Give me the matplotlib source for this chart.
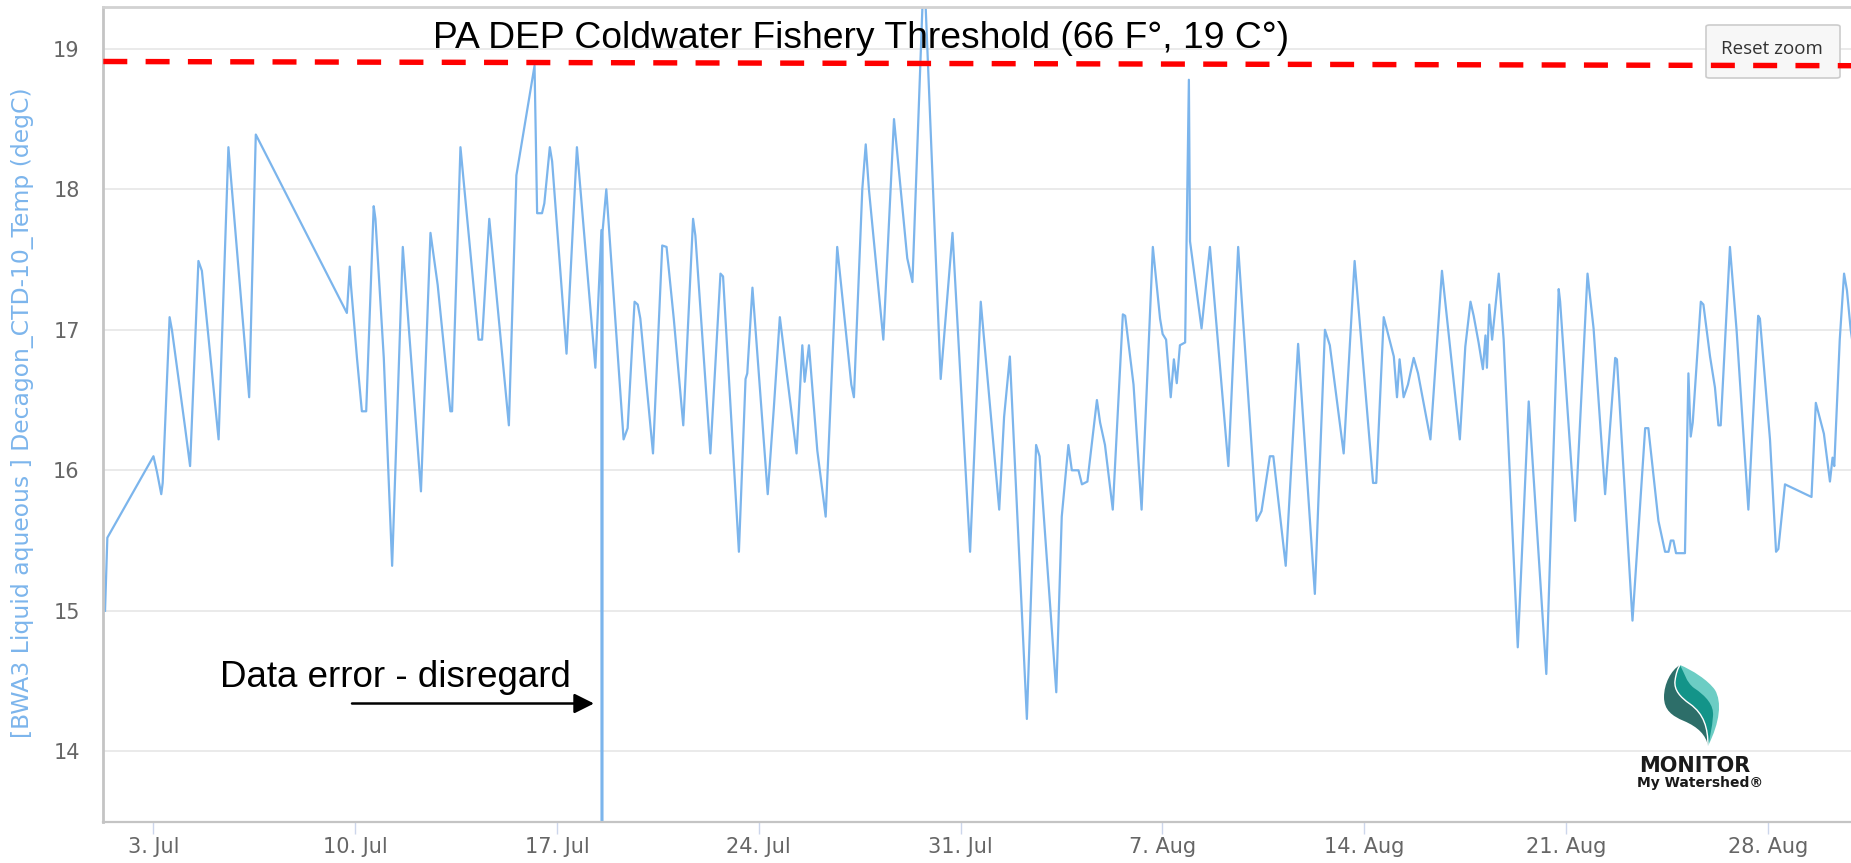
import numpy as np
import matplotlib
matplotlib.use('Agg')
import matplotlib.pyplot as plt
import matplotlib.dates as mdates
from matplotlib.patches import FancyBboxPatch, PathPatch
from matplotlib.path import Path

# readings: days since 1 Jul 2017 00:00 and water temperature (degC)
days_since_jul1 = [
    0.32, 0.40, 2.00, 2.12, 2.27, 2.32, 2.56, 2.64, 3.10, 3.27, 3.56, 3.68,
    4.26, 4.60, 5.32, 5.55, 8.71, 8.81, 8.85, 9.06, 9.23, 9.38, 9.64, 9.70,
    9.99, 10.28, 10.65, 11.28, 11.61, 11.86, 12.30, 12.36, 12.65, 13.28, 13.40, 13.65,
    14.33, 14.59, 15.22, 15.31, 15.48, 15.56, 15.75, 15.83, 16.33, 16.69, 17.33, 17.54,
    17.56, 17.58, 17.71, 18.31, 18.45, 18.69, 18.80, 18.89, 19.33, 19.65, 19.80, 20.05,
    20.38, 20.72, 20.80, 21.32, 21.67, 21.76, 22.31, 22.54, 22.60, 22.78, 23.31, 23.52,
    23.73, 24.31, 24.51, 24.59, 24.74, 25.03, 25.32, 25.72, 26.21, 26.30, 26.59, 26.71,
    26.82, 27.32, 27.69, 28.15, 28.33, 28.73, 29.31, 29.72, 30.33, 30.70, 31.34, 31.51,
    31.71, 32.30, 32.62, 32.74, 33.32, 33.51, 33.74, 33.86, 34.09, 34.21, 34.40, 34.73,
    34.84, 35.01, 35.28, 35.63, 35.71, 36.00, 36.28, 36.67, 36.92, 37.01, 37.13, 37.29,
    37.40, 37.50, 37.61, 37.79, 37.92, 37.96, 38.36, 38.65, 39.29, 39.63, 40.27, 40.44,
    40.73, 40.85, 41.28, 41.71, 42.29, 42.64, 42.81, 43.29, 43.67, 44.31, 44.42, 44.68,
    45.03, 45.14, 45.23, 45.37, 45.52, 45.72, 45.87, 46.30, 46.70, 47.32, 47.51, 47.69,
    47.80, 47.97, 48.12, 48.21, 48.26, 48.34, 48.44, 48.67, 48.84, 49.33, 49.71, 50.32,
    50.75, 50.80, 51.32, 51.75, 51.96, 52.36, 52.71, 52.77, 53.31, 53.75, 53.86, 54.21,
    54.44, 54.56, 54.64, 54.73, 54.82, 55.13, 55.25, 55.33, 55.40, 55.68, 55.77, 56.00,
    56.17, 56.29, 56.37, 56.69, 56.92, 57.33, 57.67, 57.73, 58.08, 58.29, 58.37, 58.60,
    59.52, 59.67, 59.95, 60.16, 60.25, 60.31, 60.50, 60.65, 60.75, 60.88, 60.95,
]
temp_c = [
    15.00, 15.52, 16.10, 15.99, 15.83, 15.91, 17.09, 17.00, 16.30, 16.03, 17.49, 17.42,
    16.22, 18.30, 16.52, 18.39, 17.12, 17.45, 17.32, 16.80, 16.42, 16.42, 17.88, 17.79,
    16.80, 15.32, 17.59, 15.85, 17.69, 17.32, 16.42, 16.42, 18.30, 16.93, 16.93, 17.79,
    16.32, 18.10, 18.88, 17.83, 17.83, 17.90, 18.30, 18.20, 16.83, 18.30, 16.73, 17.71,
    0.00, 17.70, 18.00, 16.22, 16.30, 17.20, 17.18, 17.08, 16.12, 17.60, 17.59, 17.08,
    16.32, 17.79, 17.67, 16.12, 17.40, 17.38, 15.42, 16.65, 16.69, 17.30, 15.83, 16.44,
    17.09, 16.12, 16.89, 16.63, 16.89, 16.14, 15.67, 17.59, 16.61, 16.52, 18.00, 18.32,
    18.00, 16.93, 18.50, 17.51, 17.34, 19.60, 16.65, 17.69, 15.42, 17.20, 15.72, 16.38,
    16.81, 14.23, 16.18, 16.10, 14.42, 15.67, 16.18, 16.00, 16.00, 15.90, 15.92, 16.50,
    16.34, 16.18, 15.72, 17.11, 17.10, 16.61, 15.72, 17.59, 17.08, 16.97, 16.93, 16.52,
    16.79, 16.62, 16.89, 16.91, 18.78, 17.63, 17.01, 17.59, 16.03, 17.59, 15.64, 15.71,
    16.10, 16.10, 15.32, 16.90, 15.12, 17.00, 16.89, 16.12, 17.49, 15.91, 15.91, 17.09,
    16.81, 16.52, 16.79, 16.52, 16.61, 16.80, 16.69, 16.22, 17.42, 16.22, 16.88, 17.20,
    17.10, 16.91, 16.72, 16.96, 16.73, 17.18, 16.93, 17.40, 16.93, 14.74, 16.49, 14.55,
    17.29, 17.20, 15.64, 17.40, 17.01, 15.83, 16.80, 16.79, 14.93, 16.30, 16.30, 15.64,
    15.42, 15.42, 15.50, 15.50, 15.41, 15.41, 16.69, 16.24, 16.34, 17.20, 17.18, 16.81,
    16.59, 16.32, 16.32, 17.59, 17.00, 15.72, 17.10, 17.08, 16.22, 15.42, 15.44, 15.90,
    15.81, 16.48, 16.26, 15.92, 16.09, 16.03, 16.93, 17.40, 17.28, 17.00, 16.90,
]
view_days = [0.26, 60.89]
threshold_c = [18.91, 18.88]
y_ticks = [14, 15, 16, 17, 18, 19]

ylabel = "[BWA3 Liquid aqueous ] Decagon_CTD-10_Temp (degC)"
threshold_text = "PA DEP Coldwater Fishery Threshold (66 F\u00b0, 19 C\u00b0)"
error_text = "Data error - disregard"

W, H = 1851, 863
start = np.datetime64('2017-07-01T00:00')


def to_dates(days):
    return start + np.round(np.array(days) * 1440).astype('timedelta64[m]')


def fx(x):
    return x / W


def fy(y):
    return 1 - y / H


times = to_dates(days_since_jul1)
xlim = to_dates(view_days)

fig = plt.figure(figsize=(W / 100, H / 100), dpi=100)
ax = fig.add_axes([fx(103.3), fy(821.5), 1 - fx(103.3), (821.5 - 6.7) / H])

ax.plot(times, temp_c, color='#7cb5ec', lw=1.6, zorder=2)
ax.plot(xlim, threshold_c, color='#ff0000', lw=3.9, dashes=(4.43, 3.38),
        dash_capstyle='butt', zorder=5)

ax.set_xlim(xlim[0], xlim[1])
ax.set_ylim(13.5, 19.3)
ax.set_yticks(y_ticks)
ax.yaxis.grid(True, color='#e6e6e6', lw=1.2)
ax.set_axisbelow(True)

ax.xaxis.set_major_locator(mdates.WeekdayLocator(byweekday=mdates.MO))
ax.xaxis.set_major_formatter(mdates.DateFormatter('%-d. %b'))

ax.spines['right'].set_visible(False)
ax.spines['left'].set_color('#c4c4c4')
ax.spines['left'].set_linewidth(2)
ax.spines['top'].set_color('#d2d2d2')
ax.spines['top'].set_linewidth(2)
ax.spines['bottom'].set_color('#c4c4c4')
ax.spines['bottom'].set_linewidth(1.6)

ax.tick_params(axis='y', length=0, pad=17, labelsize=15, labelcolor='#666666')
ax.tick_params(axis='x', length=8.5, width=1, color='#ccd6eb', pad=3,
               labelsize=15, labelcolor='#666666')

# reset zoom button (under the red line)
btn = FancyBboxPatch((fx(1706), fy(78)), (1840 - 1706) / W, (78 - 25) / H,
                     boxstyle='round,pad=0,rounding_size=0.002',
                     transform=fig.transFigure, fc='#f7f7f7', ec='#cccccc',
                     lw=1.2, zorder=3, clip_on=False)
ax.add_artist(btn)
ax.text(fx(1772), fy(49), 'Reset zoom', transform=fig.transFigure,
        ha='center', va='center', fontsize=13.5, color='#333333',
        family='Open Sans', zorder=3.5)

fig.text(fx(22.5), fy(412.5), ylabel, rotation=90, ha='center', va='center',
         fontsize=16.9, color='#7cb5ec')

fig.text(fx(433), fy(47.5), threshold_text, ha='left', va='baseline',
         fontsize=26.8, family='Liberation Sans', color='black')
fig.text(fx(220), fy(687), error_text, ha='left', va='baseline',
         fontsize=26.5, family='Liberation Sans', color='black')
ax.annotate('', xy=(fx(594), fy(703.5)), xytext=(fx(352), fy(703.5)),
            xycoords='figure fraction', textcoords='figure fraction',
            arrowprops=dict(arrowstyle='-|>,head_length=0.6,head_width=0.3',
                            color='black', lw=1.8, mutation_scale=20,
                            shrinkA=0, shrinkB=0))


# Monitor My Watershed logo
def bezier(points):
    verts = [(fx(x), fy(y)) for x, y in points]
    return Path(verts, [Path.MOVETO] + [Path.CURVE4] * (len(points) - 1))


inner = [(1708, 746), (1708, 728), (1704, 714), (1690, 704),
         (1680, 697), (1674, 690), (1675, 681),
         (1676, 673), (1678, 668), (1680, 665)]
right_edge = [(1680, 665), (1692, 670), (1708, 680), (1715, 690),
              (1722, 702), (1720, 722), (1708, 746)]
middle_edge = [(1680, 665), (1684, 672), (1686, 682), (1694, 688),
               (1706, 696), (1714, 705), (1713, 716),
               (1712, 728), (1710, 738), (1708, 746)]
left_edge = [(1680, 665), (1671, 670), (1664, 684), (1664, 697),
             (1664, 710), (1672, 716), (1684, 721),
             (1698, 727), (1706, 735), (1708, 746)]

for edge, color in [(right_edge, '#6ccdc4'), (middle_edge, '#139489'),
                    (left_edge, '#2d6e69')]:
    fig.add_artist(PathPatch(bezier(edge + inner[1:]), fc=color, ec='none',
                             transform=fig.transFigure))
fig.add_artist(PathPatch(bezier(inner), fc='none', ec='white', lw=1.0,
                         transform=fig.transFigure))
fig.text(fx(1695), fy(771.7), 'MONITOR', ha='center', va='baseline',
         fontsize=15, fontweight='bold', color='#1a1a1a')
fig.text(fx(1700), fy(786.5), 'My Watershed\u00ae', ha='center', va='baseline',
         fontsize=10, fontweight='bold', color='#1a1a1a')

fig.savefig('out.png', dpi=100)
